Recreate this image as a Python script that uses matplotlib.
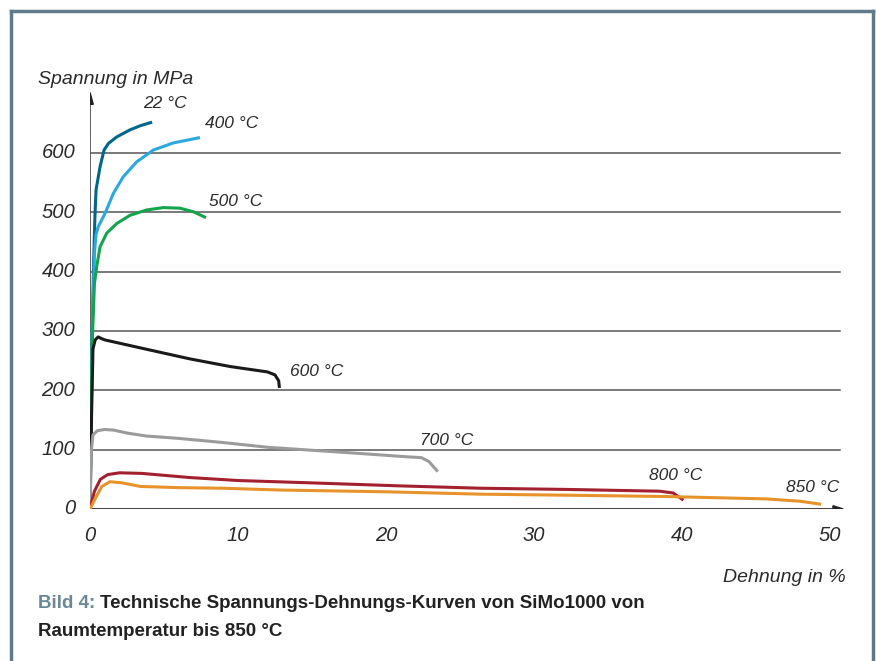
import matplotlib
matplotlib.use("Agg")
import matplotlib.pyplot as plt
from matplotlib.patches import Polygon

# Dehnung in %, Spannung in MPa
strain_22 = [0, 0.08, 0.15, 0.25, 0.34, 0.41, 0.68, 0.95, 1.24, 1.8, 2.7, 3.4, 4.2]
stress_22 = [0, 150, 300, 420, 498, 538, 577, 605, 616, 627, 639, 646, 652]

strain_400 = [0, 0.08, 0.15, 0.3, 0.4, 0.56, 1.01, 1.58, 2.25, 3.15, 4.28, 5.63, 7.43]
stress_400 = [0, 150, 300, 430, 462, 476, 498, 532, 560, 585, 605, 617, 626]

strain_500 = [0, 0.08, 0.15, 0.3, 0.45, 0.68, 1.13, 1.8, 2.7, 3.83, 4.95, 6.08, 6.98, 7.84]
stress_500 = [0, 150, 280, 380, 408, 442, 465, 481, 495, 504, 508, 507, 501, 491]

strain_600 = [0, 0.1, 0.2, 0.35, 0.55, 0.8, 1.0, 3.5, 6.75, 9.5, 12.0, 12.5, 12.75, 12.8]
stress_600 = [0, 150, 270, 285, 290, 287, 285, 271, 253, 240, 231, 226, 216, 204]

strain_700 = [0, 0.1, 0.2, 0.5, 1.0, 1.6, 2.5, 3.8, 6.0, 9.0, 12.0, 15, 18, 21.4, 22.4, 22.9, 23.5]
stress_700 = [0, 100, 125, 132, 134, 133, 128, 123, 119, 112, 104, 99, 94, 88, 86.5, 80, 63]

strain_800 = [0, 0.3, 0.7, 1.2, 2.0, 3.5, 6.75, 10, 15, 20.9, 26.4, 32.2, 38.5, 39.4, 40.1]
stress_800 = [0, 30, 50, 58, 61, 60, 53, 48, 44, 39, 35, 33, 30, 27, 15]

strain_850 = [0, 0.4, 0.8, 1.35, 2.2, 3.4, 6, 9, 12.8, 20, 26.4, 33, 39, 45.7, 48, 49.4]
stress_850 = [0, 20, 38, 46, 44, 38, 36, 35, 32, 29, 25, 23, 21, 17, 13, 8]

labels = ["22 °C", "400 °C", "500 °C", "600 °C", "700 °C", "800 °C", "850 °C"]
label_pos = [(3.58, 684), (7.77, 649), (8.04, 519), (13.5, 231), (22.3, 116), (37.8, 56), (47.0, 37)]

curves = [(strain_22, stress_22, "#00678c"),
          (strain_400, stress_400, "#2aa8df"),
          (strain_500, stress_500, "#14a44b"),
          (strain_600, stress_600, "#1a1a1a"),
          (strain_700, stress_700, "#9b9b9b"),
          (strain_800, stress_800, "#a3202f"),
          (strain_850, stress_850, "#e8922b")]

y_ticks = [0, 100, 200, 300, 400, 500, 600]
x_ticks = [0, 10, 20, 30, 40, 50]

W, H = 876, 661
fig = plt.figure(figsize=(W / 100, H / 100), dpi=100)

# axes: x=0 at px 90, 50 at px 830; y=0 at px 509, 600 at px 153
px_x = 740 / 50
px_y = 356 / 600
x0, y0 = 90, 509
xmax, ymax = 52, 720
ax = fig.add_axes([x0 / W, (H - y0) / H, xmax * px_x / W, ymax * px_y / H])
ax.set_xlim(0, xmax)
ax.set_ylim(0, ymax)
for s in ax.spines.values():
    s.set_visible(False)
ax.set_xticks([])
ax.set_yticks([])

# grid lines
for v in y_ticks[1:]:
    ax.plot([0, 50.7], [v, v], color="#555555", lw=1.1, zorder=1)

# axes with arrows
ax.plot([0, 0], [0, 690], color="#555555", lw=1.3, zorder=2)
ax.add_patch(Polygon([[-0.22, 682], [0.22, 682], [0, 702]], closed=True,
                     color="#222222", zorder=2))
ax.plot([0, 50.4], [0, 0], color="#333333", lw=1.3, zorder=2)
ax.add_patch(Polygon([[50.2, -5.5], [50.2, 5.5], [50.9, 0]], closed=True,
                     color="#222222", zorder=2))

for xs, ys, c in curves:
    ax.plot(xs, ys, color=c, lw=2.2, solid_capstyle="butt", solid_joinstyle="round", zorder=3)

lab_font = dict(family="Liberation Sans", style="italic", color="#2a2a2a")
for t, (lx, ly) in zip(labels, label_pos):
    ax.text(lx, ly, t, fontsize=12.5, ha="left", va="center", **lab_font)

for v in y_ticks:
    ax.text(-1.0, v, str(v), fontsize=14.5, ha="right", va="center", **lab_font)
for v in x_ticks:
    ax.text(v, -44, str(v), fontsize=14.5, ha="center", va="center", **lab_font)

fig.text(38 / W, 1 - 80 / H, "Spannung in MPa", fontsize=14, ha="left", va="center", **lab_font)
fig.text(846 / W, 1 - 577 / H, "Dehnung in %", fontsize=14, ha="right", va="center", **lab_font)

# caption
cap_font = dict(family="Liberation Sans", weight="bold", fontsize=13.5)
t1 = fig.text(38 / W, 1 - 603 / H, "Bild 4: ", color="#6a8796", ha="left", va="center", **cap_font)
fig.canvas.draw()
bb = t1.get_window_extent()
fig.text(bb.x1 / W, 1 - 603 / H, "Technische Spannungs-Dehnungs-Kurven von SiMo1000 von",
         color="#222222", ha="left", va="center", **cap_font)
fig.text(38 / W, 1 - 632 / H, "Raumtemperatur bis 850 °C", color="#222222",
         ha="left", va="center", **cap_font)

# frame
frame_c = "#5f7b8a"
fig.add_artist(plt.Line2D([11 / W, 11 / W], [0, 1 - 11 / H], color=frame_c, lw=2.5,
                          transform=fig.transFigure))
fig.add_artist(plt.Line2D([11 / W, 873 / W], [1 - 11 / H, 1 - 11 / H], color=frame_c, lw=2.5,
                          transform=fig.transFigure))
fig.add_artist(plt.Line2D([873 / W, 873 / W], [0, 1 - 11 / H], color=frame_c, lw=2.5,
                          transform=fig.transFigure))

fig.savefig("out.png", dpi=100)
